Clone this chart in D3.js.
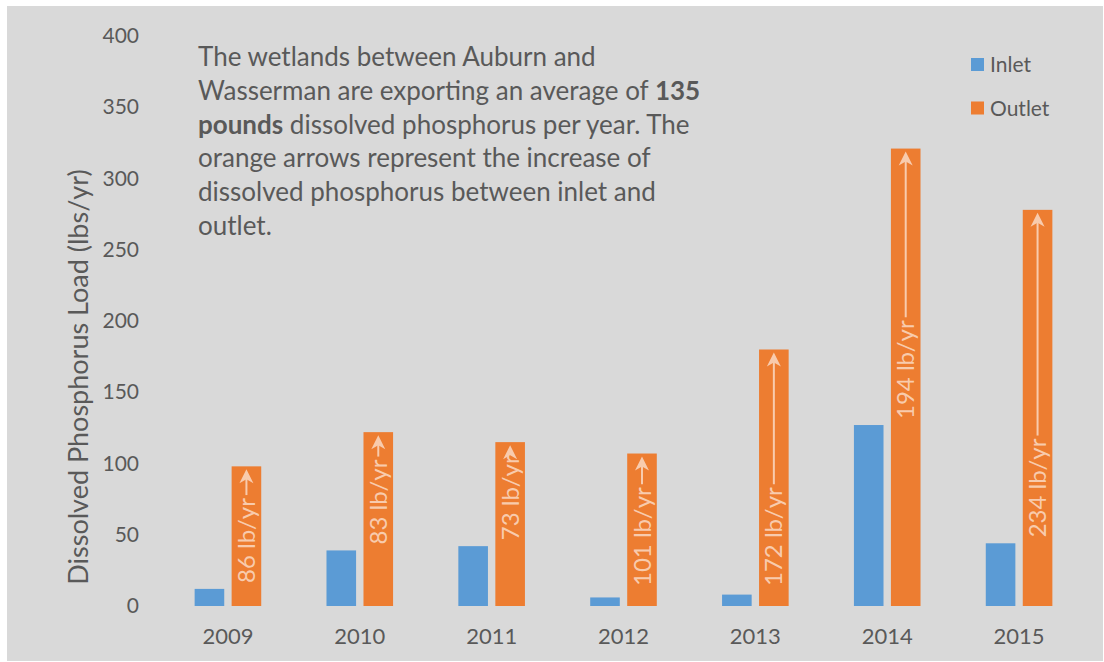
<!DOCTYPE html>
<html>
<head>
  <title>Dissolved Phosphorus Load</title>
  <meta charset="utf-8">
  <style>
  body { margin: 0; background: #fff; }
  text { font-family: Lato, "Open Sans", sans-serif; fill: #595959; }
  .barlabel { fill: #f8cbad; }
  </style>
</head>
<body>
<svg width="1104" height="662"></svg>
<script src="https://d3js.org/d3.v7.min.js"></script>
<script>

// values (lbs/yr)
var years = ["2009", "2010", "2011", "2012", "2013", "2014", "2015"];
var inlet = [12, 39, 42, 6, 8, 127, 44];
var outlet = [98, 122, 115, 107, 180, 321, 278];
var series = ["Inlet", "Outlet"];
var yTicks = [0, 50, 100, 150, 200, 250, 300, 350, 400];

var colors = { Inlet: "#5b9bd5", Outlet: "#ed7d31" };

var svg = d3.select("svg");

svg.append("rect")
    .attr("x", 7).attr("y", 6)
    .attr("width", 1096).attr("height", 655)
    .attr("fill", "#d9d9d9");

var x0 = d3.scaleBand()
    .domain(years)
    .range([162, 1085])
    .paddingInner(0.495)
    .paddingOuter(0.2475);

var x1 = d3.scaleBand()
    .domain(series)
    .range([0, x0.bandwidth()])
    .paddingInner(0.2);

var y = d3.scaleLinear()
    .domain([0, 400])
    .range([606, 36]);

// y axis labels
var yAxis = svg.append("g")
    .attr("transform", "translate(139,0)")
    .call(d3.axisLeft(y).tickValues(yTicks).tickSize(0).tickPadding(0));
yAxis.select(".domain").remove();
yAxis.selectAll("text")
    .attr("font-size", 21)
    .style("font-family", "Lato, sans-serif")
    .attr("fill", "#595959");

// x axis labels
var xAxis = svg.append("g")
    .attr("transform", "translate(0,628)")
    .call(d3.axisBottom(x0).tickSize(0).tickPadding(0));
xAxis.select(".domain").remove();
xAxis.selectAll("text")
    .attr("font-size", 22)
    .attr("dy", "0.71em")
    .style("font-family", "Lato, sans-serif")
    .attr("fill", "#595959");

svg.append("text")
    .attr("transform", "translate(88,377) rotate(-90)")
    .attr("text-anchor", "middle")
    .attr("font-size", 27)
    .text("Dissolved Phosphorus Load (lbs/yr)");

var rows = years.map(function(yr, i) {
  return { year: yr, Inlet: inlet[i], Outlet: outlet[i], diff: outlet[i] - inlet[i] };
});

var group = svg.append("g").selectAll("g")
  .data(rows)
  .enter().append("g")
    .attr("transform", function(d) { return "translate(" + x0(d.year) + ",0)"; });

group.selectAll("rect")
  .data(function(d) { return series.map(function(s) { return { key: s, value: d[s] }; }); })
  .enter().append("rect")
    .attr("x", function(d) { return x1(d.key); })
    .attr("y", function(d) { return y(d.value); })
    .attr("width", x1.bandwidth())
    .attr("height", function(d) { return y(0) - y(d.value); })
    .attr("fill", function(d) { return colors[d.key]; });

// increase labels + arrows inside the outlet bars
group.each(function(d) {
  var g = d3.select(this);
  var cx = x1("Outlet") + x1.bandwidth() / 2;
  var start = Math.min(y(d.Inlet) - 6, y(0) - 20);
  var t = g.append("text")
      .attr("class", "barlabel")
      .attr("transform", "translate(" + cx + "," + start + ") rotate(-90)")
      .attr("dy", "0.36em")
      .attr("font-size", 24)
      .text(d.diff + " lb/yr");
  var len = t.node().getComputedTextLength();
  var tip = y(d.Outlet) + 3;
  var headH = 14, headW = 7;
  var lineStart = start - len - 3;
  if (lineStart > tip + headH) {
    g.append("line")
        .attr("x1", cx).attr("x2", cx)
        .attr("y1", lineStart).attr("y2", tip + 4)
        .attr("stroke", "#f8cbad")
        .attr("stroke-width", 2);
  }
  g.append("path")
      .attr("d", "M" + cx + "," + tip +
                 "L" + (cx + headW) + "," + (tip + headH) +
                 "L" + cx + "," + (tip + headH - 4) +
                 "L" + (cx - headW) + "," + (tip + headH) + "Z")
      .attr("fill", "#f8cbad");
});

// legend
var legend = svg.append("g").selectAll("g")
  .data(series)
  .enter().append("g")
    .attr("transform", function(d, i) { return "translate(971," + (58 + i * 43.5) + ")"; });
legend.append("rect")
    .attr("width", 13).attr("height", 13)
    .attr("fill", function(d) { return colors[d]; });
legend.append("text")
    .attr("x", 19).attr("y", 14)
    .attr("font-size", 21)
    .text(function(d) { return d; });

// annotation
var note = [
  [["The wetlands between Auburn and", false]],
  [["Wasserman are exporting an average of ", false], ["135", true]],
  [["pounds", true], [" dissolved phosphorus per year. The", false]],
  [["orange arrows represent the increase of", false]],
  [["dissolved phosphorus between inlet and", false]],
  [["outlet.", false]]
];
var noteText = svg.append("text")
    .attr("x", 198).attr("y", 66)
    .attr("font-size", 26);
note.forEach(function(line, i) {
  line.forEach(function(part, j) {
    var ts = noteText.append("tspan")
        .attr("font-weight", part[1] ? "bold" : null)
        .text(part[0]);
    if (j === 0) ts.attr("x", 198).attr("y", 66 + i * 33.8);
  });
});

</script>
</body>
</html>
